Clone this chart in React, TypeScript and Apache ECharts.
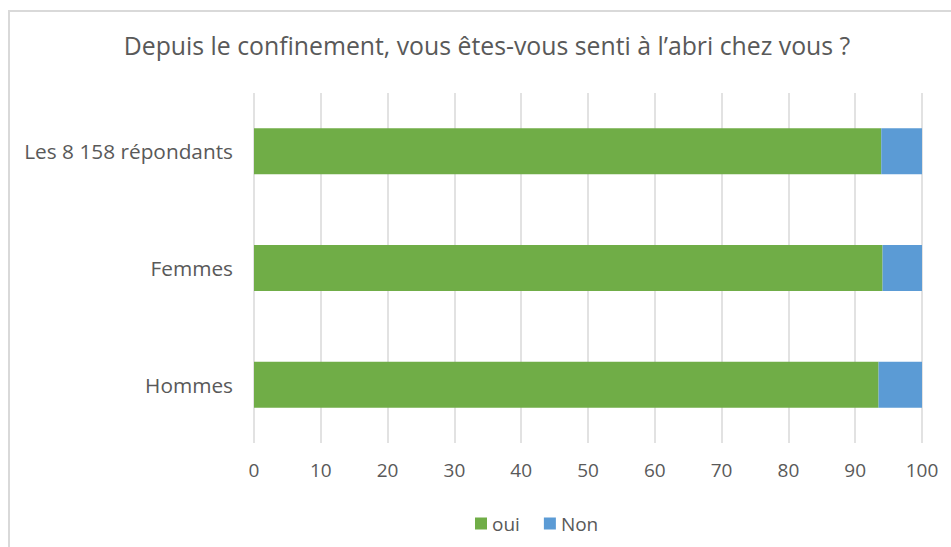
import React, { useEffect, useRef } from "react";
import * as echarts from "echarts";

const categories = ["Hommes", "Femmes", "Les 8 158 répondants"];
const ouiValues = [93.5, 94.1, 93.9];
const nonValues = [6.5, 5.9, 6.1];
const xTicks = { min: 0, max: 100, interval: 10 };
const titleText = "Depuis le confinement, vous êtes-vous senti à l’abri chez vous ?";

const FONT = "'Open Sans', 'Noto Sans', sans-serif";
const TXT = "#595959";

export default function App() {
  const ref = useRef<HTMLDivElement>(null);
  useEffect(() => {
    if (!ref.current) return;
    const chart = echarts.init(ref.current, undefined, { renderer: "svg" });
    chart.setOption({
      animation: false,
      backgroundColor: "#ffffff",
      textStyle: { fontFamily: FONT },
      title: {
        text: titleText,
        left: 487,
        textAlign: "center",
        top: 32,
        padding: 0,
        textStyle: { fontFamily: FONT, fontSize: 24.8, fontWeight: "normal", color: TXT },
      },
      graphic: [
        {
          type: "rect",
          shape: { x: 9, y: 11, width: 1000, height: 600 },
          style: { fill: "none", stroke: "#d9d9d9", lineWidth: 2 },
          silent: true,
        },
      ],
      legend: {
        left: 470,
        top: 509,
        itemWidth: 12,
        itemHeight: 12,
        itemGap: 24,
        icon: "rect",
        textStyle: { fontFamily: FONT, fontSize: 19, color: TXT },
        data: ["oui", "Non"],
      },
      grid: { left: 254, right: 29, top: 93, bottom: 104, containLabel: false },
      xAxis: {
        type: "value",
        min: xTicks.min,
        max: xTicks.max,
        interval: xTicks.interval,
        axisLine: { show: false },
        axisTick: { show: false },
        splitLine: { show: true, lineStyle: { color: "#d9d9d9", width: 1.5 } },
        axisLabel: { color: TXT, fontSize: 19, margin: 17, fontFamily: FONT },
      },
      yAxis: {
        type: "category",
        data: categories,
        axisLine: { show: false },
        axisTick: { show: false },
        axisLabel: { color: TXT, fontSize: 20.8, margin: 21, fontFamily: FONT },
      },
      series: [
        {
          name: "oui",
          type: "bar",
          stack: "total",
          data: ouiValues,
          barWidth: 46,
          itemStyle: { color: "#70AD47" },
        },
        {
          name: "Non",
          type: "bar",
          stack: "total",
          data: nonValues,
          barWidth: 46,
          itemStyle: { color: "#5B9BD5" },
        },
      ],
    });
    return () => chart.dispose();
  }, []);
  return (
    <div
      ref={ref}
      style={{ position: "fixed", left: 0, top: 0, width: 951, height: 547 }}
    />
  );
}
